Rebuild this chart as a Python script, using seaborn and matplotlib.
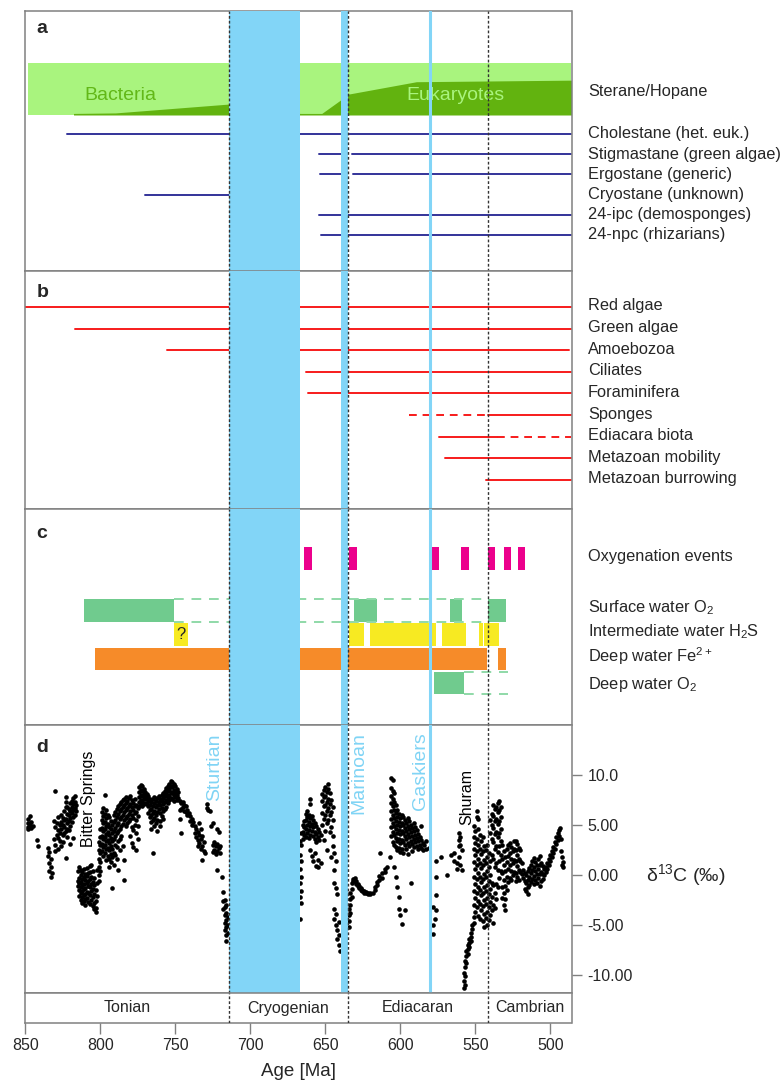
import matplotlib
matplotlib.use("Agg")
import matplotlib.pyplot as plt
import pandas as pd
import seaborn as sns

# ---------------- data ----------------
periods = ["Tonian", "Cryogenian", "Ediacaran", "Cambrian"]
period_bounds = [850, 714.5, 635, 541.5, 486]
glaciations = [(714, 667), (639.5, 635.2)]  # Sturtian, Marinoan
gaskiers = 580

# a: biomarkers
biomarkers = ["Cholestane (het. euk.)", "Stigmastane (green algae)", "Ergostane (generic)",
              "Cryostane (unknown)", "24-ipc (demosponges)", "24-npc (rhizarians)"]
biomarker_ranges = [[(822, 486)], [(654, 639), (632, 486)], [(653.5, 639), (631.5, 486)],
                    [(770, 714.5)], [(654, 486)], [(653, 486)]]
sterane_age = [818, 790, 714.6, 667, 652.5, 639.4, 635, 589.4, 486]
sterane_frac = [0.03, 0.04, 0.21, 0.03, 0.03, 0.30, 0.40, 0.64, 0.67]

# b: fossil record
clades = ["Red algae", "Green algae", "Amoebozoa", "Ciliates", "Foraminifera", "Sponges",
          "Ediacara biota", "Metazoan mobility", "Metazoan burrowing"]
clade_solid = [(850, 486), (816.7, 486), (755.7, 487.5), (662.7, 486), (661.7, 486),
               (541.7, 486), (574.6, 535.8), (570.3, 486), (543, 486)]
clade_dashed = [None, None, None, None, None, (594, 541.7), (535.8, 486), None, None]

# c: redox
oxy_events = [(664, 659), (634, 629), (578.7, 574.6), (559.4, 554.6),
              (541.7, 536.7), (531.3, 526.3), (521.7, 516.7)]
surface_o2 = [(810.8, 751.1), (631, 615.6), (567, 559), (541.7, 529.9)]
surface_o2_gap = (751.1, 541.7)
h2s = [(750.8, 741.7), (634.1, 624.6), (620.3, 576.3), (572.3, 556.3), (547.5, 545.3), (544.1, 534.6)]
fe = [(803.6, 542.3), (535.1, 529.9)]
deep_o2 = [(577.5, 557.7)]
deep_o2_gap = (557.7, 528.2)

# d: carbonate d13C (age, values)
d13c_tonian = [
    (848, [5.6, 5.2, 4.8, 4.6]), (847, [5.9, 5.0]), (846, [5.3, 4.7]), (845, [4.9]),
    (842.5, [3.5]), (841.5, [2.9]), (835, [2.7, 1.9]), (834, [2.3, 1.2, 0.4]),
    (833, [1.6, 0.8, -0.2]), (832, [0.2]), (831, [5.4, 3.6]), (830, [8.4, 4.8, 3.0, 2.4]),
    (829, [5.2, 4.0]), (828, [5.8, 4.5, 3.7, 2.6]), (827, [5.0, 4.2, 3.4]),
    (826, [6.0, 5.3, 4.6, 2.9]), (825, [5.7, 5.0, 4.0, 3.3]), (824, [6.4, 5.5, 4.8, 4.2]),
    (823, [7.8, 7.3, 6.8, 5.6, 4.4, 1.7]), (822, [6.8, 6.1, 5.2, 4.6, 3.8]),
    (821, [6.6, 6.0, 5.4, 4.5]), (820, [7.2, 6.4, 5.7, 4.9, 3.1]), (819, [7.4, 6.8, 6.2, 5.3]),
    (818, [7.7, 7.1, 6.5, 5.8, 3.7]), (817, [7.9, 7.3, 6.7, 6.0]), (816, [7.0, 6.4]),
    (815, [0.4, -0.6, -1.1]), (814, [0.8, -0.3, -0.8, -1.5, -2.1]),
    (813, [0.5, 0.0, -0.7, -1.2, -1.8, -2.5]), (812, [0.3, -0.4, -1.0, -1.6, -2.2, -2.8]),
    (811, [0.6, -0.2, -0.9, -1.4, -2.0, -2.6]), (810, [0.1, -0.5, -1.3, -1.9, -2.4, -3.0]),
    (809, [0.7, -0.1, -0.8, -1.7, -2.3]), (808, [0.2, -0.6, -1.1, -1.8, -2.7]),
    (807, [0.9, 0.3, -0.4, -1.2, -2.0, -2.9]), (806, [1.0, -0.2, -0.9, -1.6, -2.5]),
    (805, [0.4, -0.7, -1.4, -2.2, -3.1]), (804, [-0.3, -1.0, -1.9, -2.8, -3.4]),
    (803, [-1.5, -2.6, -3.3, -3.7]), (802, [0.5, -0.8, -2.1]),
    (801, [3.3, 2.5, 1.6, 0.8, 0.0, -0.6]), (800, [4.6, 3.8, 3.0, 2.2, 1.3, 0.4]),
    (799, [6.3, 5.5, 4.7, 3.9, 3.1, 2.4]), (798, [6.7, 5.9, 5.2, 4.4, 3.6, 2.8, 1.9]),
    (797, [8.0, 6.1, 5.3, 4.6, 3.8, 3.0, 2.2]), (796, [6.5, 5.7, 4.9, 4.1, 3.4, 2.6, 1.5]),
    (795, [6.0, 5.1, 4.3, 3.5, 2.7, 1.9]), (794, [5.8, 4.8, 4.0, 3.2, 2.5, 1.6, 0.8]),
    (793, [5.4, 4.6, 3.7, 2.9, 2.1, 1.3]), (792, [5.0, 4.2, 3.4, 2.6, 1.8, -1.3]),
    (791, [6.0, 5.3, 4.4, 3.6, 2.2, 1.0]), (790, [6.3, 5.5, 4.7, 3.9, 3.0, 2.0]),
    (789, [6.6, 5.8, 5.0, 4.2, 2.8, 1.6]), (788, [6.9, 6.1, 5.2, 4.4, 3.4, 0.5]),
    (787, [7.1, 6.4, 5.6, 4.6, 3.6, 2.5]), (786, [7.3, 6.6, 5.8, 4.9, 3.9]),
    (785, [7.5, 6.8, 6.0, 5.1, 2.9]), (784, [7.6, 7.0, 6.3, 5.5, 1.5, -0.5]),
    (783, [7.8, 7.2, 6.5, 5.7, 4.9]), (782, [7.4, 6.7, 5.9, 5.2]), (781, [7.7, 6.9, 6.1, 5.4]),
    (780, [7.9, 7.1, 6.4, 5.6, 3.9]), (779, [7.5, 6.8, 6.0, 4.8, 3.2]),
    (778, [7.2, 6.5, 5.7, 4.5, 2.8]), (777, [7.6, 6.9, 6.2, 5.0]),
    (776, [7.0, 6.3, 5.5, 4.2, 2.5]), (775, [6.7, 5.9, 4.9, 3.6]),
    (774, [8.8, 8.3, 7.8, 7.3, 6.9]), (773, [9.0, 8.5, 8.0, 7.5, 7.0]),
    (772, [8.9, 8.4, 7.9, 7.3, 6.9]), (771, [8.6, 8.1, 7.6, 7.1]), (770, [8.3, 7.8, 7.2]),
    (769, [8.1, 7.6, 7.1]), (768, [7.9, 7.4, 6.9, 6.2]), (767, [7.6, 7.0, 6.5, 5.8]),
    (766, [7.3, 6.6, 6.0, 5.3, 4.6]), (765, [7.6, 6.9, 6.2, 5.5, 2.2]),
    (764, [7.8, 7.2, 6.4, 5.7, 4.9]), (763, [7.4, 6.8, 6.0, 5.2]),
    (762, [7.7, 7.0, 6.3, 5.5, 4.4]), (761, [7.9, 7.3, 6.6]), (760, [7.6, 7.0, 6.2, 5.4, 4.9]),
    (759, [8.0, 7.4, 6.7, 5.9]), (758, [8.2, 7.7, 7.1, 6.4, 5.6]), (757, [8.4, 7.9, 7.3, 6.6]),
    (756, [8.7, 8.1, 7.5, 6.8]), (755, [8.9, 8.4, 7.8, 7.2]), (754, [9.1, 8.6, 8.0, 7.5]),
    (753, [9.4, 8.9, 8.3, 7.7]), (752, [9.3, 8.8, 8.2, 7.6]), (751, [9.1, 8.5, 8.0, 7.4]),
    (750, [8.9, 8.3, 7.8]), (749, [8.6, 8.0, 7.5]), (748, [8.3, 7.7]), (747, [7.4, 6.5, 5.6]),
    (746, [7.2, 6.6, 4.2]), (745, [7.3, 6.8]), (744, [7.0, 6.4]), (743, [6.9, 6.3]),
    (742, [6.5, 6.0]), (741, [6.2]), (740, [5.9, 5.4]), (739, [5.6, 5.0]), (738, [5.3]),
    (737, [4.9, 4.2]), (736, [4.6, 3.8]), (735, [4.3, 3.5, 2.9]), (734, [5.2, 4.0, 3.2]),
    (733, [4.6, 3.6, 2.6]), (732, [3.9, 2.9, 1.5]), (731, [3.3, 2.4]), (730, [2.2]),
    (729, [7.1, 6.7]), (728, [6.5]), (727, [6.4]), (726, [4.9]), (725, [5.2, 3.0, 2.3]),
    (724, [3.3, 2.5]), (723, [2.9, 2.1]), (722, [4.6, 3.1, 2.4, 0.5]), (721, [4.3, 2.7]),
    (720, [2.9, 2.2]), (719, [-0.2]), (718, [-1.7, -2.6, -3.4]),
    (717, [-2.5, -3.2, -4.0, -4.8, -5.5]), (716, [-3.0, -3.8, -4.5, -5.2, -6.0, -6.6]),
    (715, [-4.2, -5.0, -5.8]),
]
d13c_cryogenian = [
    (667, [3.4, 2.0, 0.6, -0.8, -2.2, -4.4]), (666, [4.2, 3.0, 1.4, -0.2, -1.6, -2.8]),
    (665, [5.0, 4.3, 3.6]), (664, [5.4, 4.8, 4.0]), (663, [6.1, 5.5, 4.6, 3.8]),
    (662, [6.4, 5.8, 5.0, 4.2]), (661, [6.0, 5.3, 4.5, 3.7]),
    (660, [7.6, 7.1, 5.7, 4.9, 4.0, 2.5]), (659, [5.9, 5.1, 4.4, 1.9]),
    (658, [5.5, 4.8, 3.9, 1.4]), (657, [5.2, 4.3, 3.6, 2.2]), (656, [4.9, 4.1, 3.3, 0.9]),
    (655, [4.6, 3.8, 1.5, 0.8]), (654, [4.3, 3.5]), (653, [4.0, 1.2]),
    (652, [8.1, 7.4, 6.2, 5.0]), (651, [8.5, 7.8, 6.9, 5.6, 3.5]),
    (650, [8.8, 7.9, 7.0, 6.0, 4.4]), (649, [8.3, 7.3, 6.4, 5.2, 2.5]),
    (648, [9.1, 8.6, 7.6, 6.7, 5.5]), (647, [8.2, 7.1, 6.0, 4.3]), (646, [7.5, 6.3, 4.8, 1.8]),
    (645, [6.8, 5.5, 3.9, 2.9]), (644, [2.2, 0.5, -0.8, -3.4, -4.4]),
    (643, [1.4, -1.3, -3.9, -5.0]), (642, [-1.9, -5.5, -6.4]), (641, [-4.7, -6.0, -7.0]),
    (640, [-7.6]),
]
d13c_ediacaran = [
    (634.3, [-5.2, -4.6, -4.0, -3.4]), (633.5, [-3.8, -3.0, -2.4, -1.8]),
    (632.5, [-2.2, -1.4, -0.8]), (631.5, [-0.6, -0.4]), (630.5, [-0.3, -0.6]),
    (629.5, [-0.6, -0.9]), (628.5, [-0.9, -1.1]), (627.5, [-1.1, -1.3]), (626.5, [-1.3, -1.5]),
    (625.5, [-1.5, -1.6]), (624.5, [-1.6, -1.8]), (623, [-1.7, -1.8]), (621.5, [-1.8, -1.9]),
    (620, [-1.9, -1.8]), (618.5, [-1.8]), (617, [-1.5, -1.2]), (615.5, [-1.0, -0.7]),
    (614, [-0.5, -0.1]), (613.5, [2.2]), (612, [0.2, -0.3]), (610.5, [0.6, 0.3]), (609, [0.8]),
    (607, [1.8]), (606, [9.7, 8.7, 7.9, 7.2, 6.4, 5.6, 4.8, 3.9]),
    (605, [9.5, 8.4, 7.6, 6.9, 6.0, 5.2, 4.3, 3.3]),
    (604, [8.2, 7.3, 6.5, 5.7, 4.9, 4.0, 3.0, 0.8]),
    (603, [7.0, 6.2, 5.4, 4.6, 3.7, 2.8, -0.2]), (602, [6.5, 5.8, 5.0, 4.2, 3.4, 2.5, -1.2]),
    (601, [6.1, 5.3, 4.5, 3.6, 2.7, -2.2, -3.4]), (600, [5.7, 4.9, 4.1, 3.2, 2.3, -4.0]),
    (599, [6.0, 5.2, 4.4, 3.5, 2.6, -4.9]), (598, [5.8, 5.0, 4.2, 3.3, 2.2]),
    (597, [5.5, 4.7, 3.9, 3.0, -3.5]), (596, [5.2, 4.4, 3.6, 2.6]),
    (595, [5.7, 4.9, 4.1, 3.2, 2.1]), (594, [5.4, 4.6, 3.8, 2.9]), (593, [5.0, 4.3, 3.4, -0.8]),
    (592, [4.7, 3.9, 3.1, 2.4]), (591, [5.2, 4.4, 3.6, 2.8]), (590, [4.8, 4.0, 3.3]),
    (589, [4.5, 3.7, 2.9]), (588, [4.1, 3.4, 2.6]), (587, [3.8, 3.0]), (586, [4.9, 3.5, 2.7]),
    (585, [3.2, 2.5]), (584, [3.0]), (583, [3.4, 2.6]), (581, [2.7]),
    (578, [-5.0, -5.9, -3.2]), (577, [-4.4]), (576, [-3.5, -2.0, -0.2, 1.4]), (573, [1.8]),
    (569, [0.0]), (566.5, [2.0]), (564, [2.2, 1.4]), (562, [1.2, 0.6]),
    (561, [4.2, 3.5, 2.9, 1.8]), (560, [3.8, 3.0, 1.0]), (559, [2.5, 0.5]),
    (557.5, [-9.8, -10.6, -11.3]), (557, [-8.6, -9.2, -10.1, -11.0]),
    (556, [-7.6, -8.1, -8.8]), (555, [-7.0, -7.4, -7.9]), (554, [-6.4, -6.8, -7.2]),
    (553, [-5.8, -6.2, -6.6]), (552, [-5.0, -5.4]), (551, [-4.2, -4.8]),
    (551, [4.9, 3.8, 2.6, 1.3, -0.2, -1.6, -3.0]), (550, [4.4, 3.2, 2.0, 0.6, -0.9, -2.3, -3.7]),
    (549, [6.4, 5.8, 3.6, 2.4, 1.0, -0.4, -1.8, -3.2]),
    (548, [5.6, 4.6, 3.0, 1.6, 0.2, -1.2, -2.6, -4.1]),
    (547, [4.0, 2.6, 1.2, -0.2, -1.5, -2.9, -4.4]), (546, [3.4, 2.1, 0.7, -0.7, -2.0, -3.5]),
    (545, [3.8, 2.4, 1.0, -0.4, -1.8, -3.1, -4.6]),
    (544, [2.9, 1.5, 0.1, -1.2, -2.5, -3.9, -5.2]),
    (543, [2.5, 1.2, -0.2, -1.6, -2.9, -4.3]), (542, [3.0, 1.8, 0.4, -1.0, -2.3, -3.7, -5.0]),
]
d13c_cambrian = [
    (541, [2.2, 0.8, -0.6, -1.9, -3.2, -4.5]), (540, [5.5, 4.2, 1.4, 0.0, -1.4, -2.7, -4.0]),
    (539, [6.1, 5.0, 3.6, 2.0, -0.8, -2.2, -3.5]),
    (538, [7.0, 5.9, 4.7, 3.3, 1.6, -1.0, -3.0, -4.8]),
    (537, [6.6, 5.4, 4.1, 2.6, 0.8, -1.8, -3.3]), (536, [6.8, 5.6, 4.3, 2.9, 1.2, -0.9, -2.4]),
    (535, [7.2, 6.3, 5.1, 3.8, 2.3, 0.5, -1.2]), (534, [7.4, 6.5, 5.4, 4.2, 2.9, 1.4, -0.3]),
    (533, [6.8, 5.8, 4.6, 3.4, 2.0, 0.4]), (532, [3.0, 1.6, 0.2, -1.2, -2.3]),
    (531, [2.4, 1.0, -0.5, -1.8, -3.0]), (530, [1.8, 0.4, -1.1, -2.4, -3.5]),
    (529, [2.6, 1.3, -0.2, -1.5]), (528, [3.0, 1.9, 0.6, -0.7]), (527, [3.2, 2.2, 1.0, -0.3]),
    (526, [2.8, 1.6, 0.4, -0.5]), (525, [2.4, 1.2, 0.0]), (524, [3.4, 2.6, 1.5, 0.3]),
    (523, [3.4, 2.5, 1.4, 0.2, -0.6]), (522, [3.1, 2.0, 0.9, -0.2]), (521, [2.7, 1.6, 0.5, -0.5]),
    (520, [2.5, 1.4, 0.3]), (519, [1.2, 0.1]), (518, [0.5, -0.3]), (517, [0.2, -0.6, -1.4]),
    (516, [0.0, -0.8, -1.6]), (515, [0.4, -0.5, -1.2, -1.9]), (514, [0.7, -0.2, -1.0]),
    (513, [1.0, 0.2, -0.7]), (512, [1.4, 0.5, -0.4]), (511, [1.7, 0.8, -0.1, -0.9]),
    (510, [1.3, 0.4, -0.5]), (509, [1.0, 0.1, -0.8]), (508, [1.6, 0.6, -0.3]),
    (507, [1.9, 1.0, 0.1, -1.1]), (506, [1.2, 0.3, -0.6]), (505, [0.9, 0.1, -0.4]),
    (504, [0.6, 0.0]), (503, [0.8, 0.3]), (502, [1.2, 0.6]), (501, [1.6, 1.0]), (500, [2.0, 1.4]),
    (499, [2.4, 1.8]), (498, [2.8, 2.2]), (497, [3.3, 2.6]), (496, [3.8, 3.1]), (495, [4.2, 3.5]),
    (494, [4.5, 3.9]), (493.5, [4.7]), (493, [3.6, 2.4]), (492, [1.8, 1.0]), (491.4, [0.8, 1.3]),
]
excursions = [("Bitter Springs", 808.3, 7.6, "black", 11.5), ("Sturtian", 724, 10.8, "#80d4f5", 14),
              ("Marinoan", 628, 10.2, "#80d4f5", 14), ("Gaskiers", 586.5, 10.4, "#80d4f5", 14),
              ("Shuram", 556, 7.8, "black", 11.5)]

# ---------------- style ----------------
sns.set_theme(style="white")
plt.rcParams["font.family"] = ["Liberation Sans", "DejaVu Sans"]
plt.rcParams["mathtext.default"] = "regular"

BLUE = "#82d5f7"
GRAY = "#808080"
W_PX, H_PX = 783, 1081
X0, X1 = 25.5, 571.5

fig = plt.figure(figsize=(W_PX / 100, H_PX / 100), dpi=100)


def panel(top, bottom):
    ax = fig.add_axes([X0 / W_PX, 1 - bottom / H_PX, (X1 - X0) / W_PX, (bottom - top) / H_PX])
    ax.set_xlim(850, 486)
    ax.set_xticks([])
    ax.set_yticks([])
    for s in ax.spines.values():
        s.set_color(GRAY)
        s.set_linewidth(1.1)
    return ax


def right_label(ax, y, s):
    ax.text(1.03, y, s, transform=ax.get_yaxis_transform(), va="center", ha="left", fontsize=11.8)


def letter(ax, y, s):
    ax.text(0.02, y, s, transform=ax.get_yaxis_transform(), va="center", ha="left",
            fontsize=14, fontweight="bold")


ax_a = panel(11, 271)
ax_b = panel(271, 509)
ax_c = panel(509, 725)
ax_d = panel(725, 993)
ax_p = panel(993, 1023)
ax_a.set_ylim(271, 11)
ax_b.set_ylim(509, 271)
ax_c.set_ylim(725, 509)

# ---- a ----
band_top, band_bot = 63, 115
ax_a.fill_between([848.5, 486], band_top, band_bot, color="#a9f47e", lw=0)
ax_a.fill_between(sterane_age, [band_bot - f * (band_bot - band_top) for f in sterane_frac],
                  band_bot, color="#62b30f", lw=0)
ax_a.text(786.5, 96, "Bacteria", color="#62b818", fontsize=14, ha="center", va="center")
ax_a.text(563.5, 96, "Eukaryotes", color="#a9f47e", fontsize=14, ha="center", va="center")
right_label(ax_a, 92, "Sterane/Hopane")
for i, (name, ranges) in enumerate(zip(biomarkers, biomarker_ranges)):
    y = 134 + 20.2 * i
    for old, young in ranges:
        ax_a.plot([old, young], [y, y], color="#333399", lw=1.4)
    right_label(ax_a, y, name)
letter(ax_a, 29, "a")

# ---- b ----
for i, name in enumerate(clades):
    y = 307 + 21.6 * i
    old, young = clade_solid[i]
    ax_b.plot([old, young], [y, y], color="#f71b1b", lw=1.4)
    if clade_dashed[i]:
        old, young = clade_dashed[i]
        ax_b.plot([old, young], [y, y], color="#f71b1b", lw=1.4, ls=(0, (4, 3)))
    right_label(ax_b, y - 1, name)
letter(ax_b, 293, "b")

# ---- c ----
rows_c = [558.5, 610.5, 634.7, 658.9, 683.1]
H_BAR = 22.5
green = "#70cb8e"
for old, young in oxy_events:
    ax_c.barh(rows_c[0], young - old, left=old, height=H_BAR, color="#ec008c", lw=0)
for row, gap in ((rows_c[1], surface_o2_gap), (rows_c[4], deep_o2_gap)):
    for yy in (row - H_BAR / 2, row + H_BAR / 2):
        ax_c.plot(gap, [yy, yy], color="#8fd9a8", lw=1.4, ls=(0, (5, 4)))
for rng, row, col in ((surface_o2, rows_c[1], green), (h2s, rows_c[2], "#f7ea22"),
                      (fe, rows_c[3], "#f68b29"), (deep_o2, rows_c[4], green)):
    for old, young in rng:
        ax_c.barh(row, young - old, left=old, height=H_BAR, color=col, lw=0)
ax_c.text(sum(h2s[0]) / 2, rows_c[2], "?", ha="center", va="center", fontsize=12)
c_labels = ["Oxygenation events", "Surface water O$_2$", "Intermediate water H$_2$S",
            "Deep water Fe$^{2+}$", "Deep water O$_2$"]
for y, s in zip([557, 608, 632, 656, 684], c_labels):
    right_label(ax_c, y, s)
letter(ax_c, 533, "c")

# ---- d ----
pts = []
for seg in (d13c_tonian, d13c_cryogenian, d13c_ediacaran, d13c_cambrian):
    for age, vals in seg:
        pts += [(age, v) for v in vals]
df = pd.DataFrame(pts, columns=["age", "d13c"])
sns.scatterplot(data=df, x="age", y="d13c", color="black", s=11, linewidth=0, ax=ax_d, legend=False)
ax_d.set_xlim(850, 486)
ax_d.set_ylim(-11.8, 15.0)
ax_d.set_xlabel("")
ax_d.set_ylabel("")
ax_d.set_xticks([])
ax_d.yaxis.tick_right()
ax_d.set_yticks([10, 5, 0, -5, -10])
ax_d.set_yticklabels(["10.0", "5.00", "0.00", "-5.00", "-10.00"])
ax_d.tick_params(axis="y", right=True, left=False, length=7.5, width=1, color=GRAY,
                 labelsize=11.5, pad=4)
for s, x, y, col, fs in excursions:
    ax_d.text(x, y, s, rotation=90, ha="center", va="center", color=col, fontsize=fs, zorder=7)
ax_d.text(0.02, 12.8, "d", transform=ax_d.get_yaxis_transform(), va="center", ha="left",
          fontsize=14, fontweight="bold")
fig.text(646 / W_PX, 1 - 875 / H_PX, "δ$^{13}$C (‰)", fontsize=14, va="center", ha="left")

# ---- glaciations and boundaries ----
for ax in (ax_a, ax_b, ax_c, ax_d):
    for old, young in glaciations:
        ax.axvspan(old, young, color=BLUE, lw=0, zorder=4)
    ax.axvline(gaskiers, color=BLUE, lw=2.2, zorder=4)
for ax in (ax_a, ax_b, ax_c, ax_d, ax_p):
    for b in period_bounds[1:-1]:
        ax.axvline(b, color="#333333", lw=1, ls=(0, (2, 1.5)), zorder=5)

# ---- period bar ----
ax_p.set_ylim(0, 1)
for name, lo, hi in zip(periods, period_bounds[:-1], period_bounds[1:]):
    ax_p.text((lo + hi) / 2, 0.5, name, ha="center", va="center", fontsize=11.5)
ax_p.set_xticks(range(850, 499, -50))
ax_p.tick_params(axis="x", bottom=True, length=8, width=1, color=GRAY, labelsize=11.5, pad=3)
ax_p.set_xlabel("Age [Ma]", fontsize=13.5, labelpad=7)

fig.savefig("out.png", dpi=100)
